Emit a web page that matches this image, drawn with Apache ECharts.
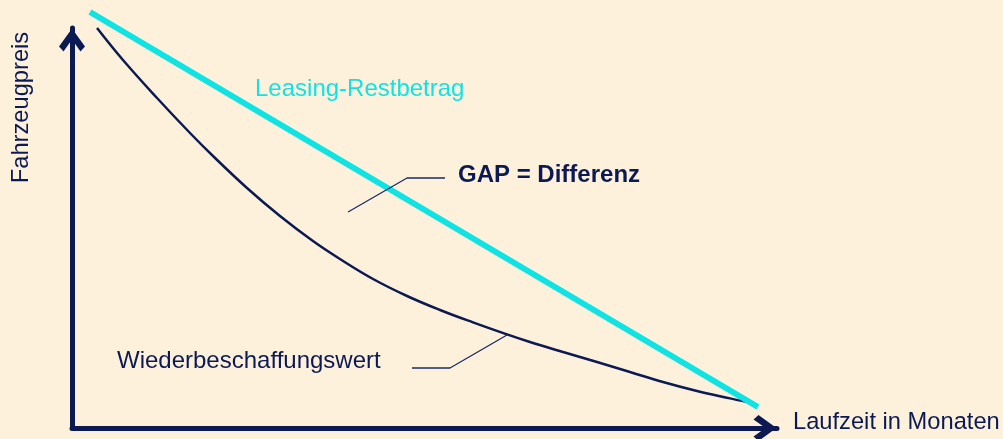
<!DOCTYPE html>
<html>
<head>
<meta charset="utf-8">
<script src="https://cdn.jsdelivr.net/npm/echarts@6/dist/echarts.min.js"></script>
<style>
  html, body { margin: 0; padding: 0; background: #fef1dc; }
  #chart { width: 1003px; height: 439px; }
</style>
</head>
<body>
<div id="chart"></div>
<script>
// Werte in Achsen-Einheiten (0..100)
const leasingMonths = [2.55, 97.3];
const leasingValues = [104, 5.25];

const replaceMonths = [3.55, 7.23, 12.06, 16.74, 20.0, 24.82, 29.5, 34.18, 38.01, 42.7, 47.52, 52.2, 56.88, 61.7, 64.96, 69.65, 74.47, 79.15, 83.83, 88.65, 93.33, 95.74];
const replaceValues = [100, 92, 82.5, 73.75, 68, 60, 53, 46.75, 42.25, 37.25, 33, 29.5, 26.4, 23.4, 21.5, 19, 16.5, 14, 11.5, 9.25, 7.4, 6.5];

const gapLeaderX = [39.15, 47.52, 52.91];
const gapLeaderY = [54, 62.5, 62.5];
const wertLeaderX = [48.23, 53.62, 61.7];
const wertLeaderY = [15, 15, 23.25];

const labels = {
  yName: "Fahrzeugpreis",
  xName: "Laufzeit in Monaten",
  leasing: "Leasing-Restbetrag",
  gap: "GAP = Differenz",
  wert: "Wiederbeschaffungswert",
};

const navy = "#0b1a52";
const cyan = "#0fe3e3";
const font = "'Liberation Sans', Arial, sans-serif";
const arrow = "path://M13,0 L26,18 L21.5,23 L13,11 L4.5,23 L0,18 Z";

const zip = (xs, ys) => xs.map((x, i) => [x, ys[i]]);

function axis() {
  return {
    type: "value",
    min: 0,
    max: 100,
    axisLine: {
      show: true,
      symbol: ["none", arrow],
      symbolSize: [26, 25],
      symbolOffset: [0, -12],
      lineStyle: { color: navy, width: 5 },
    },
    axisTick: { show: false },
    axisLabel: { show: false },
    splitLine: { show: false },
  };
}

const chart = echarts.init(document.getElementById("chart"));
chart.setOption({
  backgroundColor: "#fef1dc",
  animation: false,
  grid: { left: 72, top: 28, width: 705, height: 400 },
  xAxis: axis(),
  yAxis: axis(),
  series: [
    {
      type: "line",
      data: zip(gapLeaderX, gapLeaderY),
      symbol: "none",
      lineStyle: { color: "#1b2a66", width: 1.3 },
      z: 4,
    },
    {
      type: "line",
      data: zip(wertLeaderX, wertLeaderY),
      symbol: "none",
      lineStyle: { color: "#1b2a66", width: 1.3 },
      z: 4,
    },
    {
      type: "line",
      data: zip(replaceMonths, replaceValues),
      symbol: "none",
      smooth: 0.4,
      lineStyle: { color: navy, width: 2.5 },
      z: 3,
    },
    {
      type: "line",
      data: zip(leasingMonths, leasingValues),
      symbol: "none",
      clip: false,
      lineStyle: { color: cyan, width: 6, cap: "butt" },
      z: 3,
    },
  ],
  graphic: [
    {
      type: "text", x: 255, y: 89.5,
      style: { text: labels.leasing, fill: cyan, font: "24px " + font, verticalAlign: "middle" },
    },
    {
      type: "text", x: 458, y: 175.5,
      style: { text: labels.gap, fill: navy, font: "bold 24px " + font, verticalAlign: "middle" },
    },
    {
      type: "text", x: 117, y: 361,
      style: { text: labels.wert, fill: navy, font: "24px " + font, verticalAlign: "middle" },
    },
    {
      type: "text", x: 793, y: 422,
      style: { text: labels.xName, fill: navy, font: "23.7px " + font, verticalAlign: "middle" },
    },
    {
      type: "text", x: 21, y: 107.5, rotation: Math.PI / 2,
      style: { text: labels.yName, fill: navy, font: "23.7px " + font, align: "center", verticalAlign: "middle" },
    },
  ],
});
</script>
</body>
</html>
